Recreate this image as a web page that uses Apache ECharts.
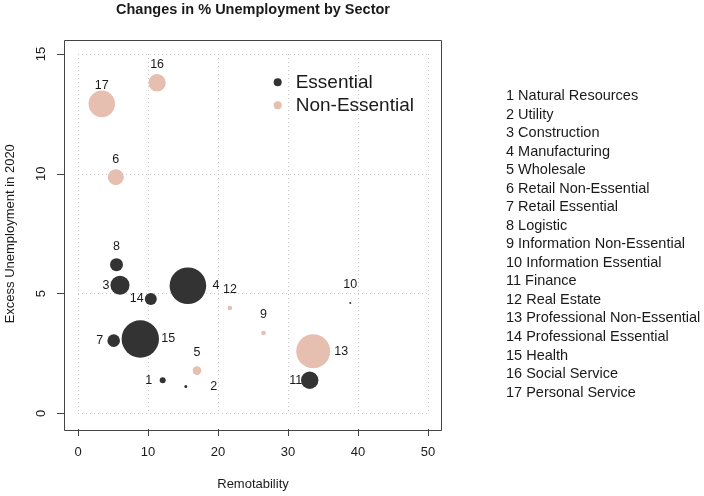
<!DOCTYPE html>
<html>
<head>
<meta charset="utf-8">
<script src="https://cdn.jsdelivr.net/npm/echarts@6/dist/echarts.min.js"></script>
<style>
  html, body { margin: 0; padding: 0; background: #fff; }
  #chart { width: 704px; height: 496px; }
</style>
</head>
<body>
<div id="chart"></div>
<script>
// sectors, numbered 1..17
const sectors = [
  'Natural Resources', 'Utility', 'Construction', 'Manufacturing', 'Wholesale',
  'Retail Non-Essential', 'Retail Essential', 'Logistic', 'Information Non-Essential',
  'Information Essential', 'Finance', 'Real Estate', 'Professional Non-Essential',
  'Professional Essential', 'Health', 'Social Service', 'Personal Service'
];
const group = [
  'Essential', 'Essential', 'Essential', 'Essential', 'Non-Essential',
  'Non-Essential', 'Essential', 'Essential', 'Non-Essential',
  'Essential', 'Essential', 'Non-Essential', 'Non-Essential',
  'Essential', 'Essential', 'Non-Essential', 'Non-Essential'
];
const remotability = [12.1, 15.4, 6.0, 15.7, 17.0, 5.4, 5.1, 5.5, 26.5, 38.9, 33.1, 21.7, 33.6, 10.4, 8.9, 11.3, 3.4];
const excessUnemp = [1.39, 1.13, 5.35, 5.33, 1.79, 9.86, 3.04, 6.21, 3.36, 4.61, 1.39, 4.40, 2.60, 4.78, 3.11, 13.80, 12.92];
// bubble size variable (relative weight of the sector)
const weight = [3, 1.5, 9.5, 18.3, 4.3, 8, 6.3, 6.5, 2.3, 1, 8.7, 2.3, 17, 6, 18.7, 8.7, 13.3];
const groups = ['Essential', 'Non-Essential'];

// label placement around each bubble
const labelSide = ['left', 'right', 'left', 'right', 'top', 'top', 'left', 'top', 'top',
  'top', 'left', 'top', 'right', 'left', 'right', 'top', 'top'];
const sideOffset = { top: [0, -18], left: [-14, 0], right: [28, 0] };
const colors = { 'Essential': '#333333', 'Non-Essential': '#e6bfb1' };
const font = 'Liberation Sans, Arial, sans-serif';

const chart = echarts.init(document.getElementById('chart'));

function seriesData(g) {
  const out = [];
  for (let i = 0; i < sectors.length; i++) {
    if (group[i] !== g) continue;
    out.push({
      value: [remotability[i], excessUnemp[i], weight[i], i + 1],
      label: { position: 'inside', offset: sideOffset[labelSide[i]] }
    });
  }
  return out;
}

const sectorList = sectors.map(function (s, i) {
  return {
    type: 'text',
    x: 506,
    y: 96 + i * 18.54,
    style: {
      text: (i + 1) + ' ' + s,
      fontSize: 14.5,
      fontFamily: font,
      fill: '#1a1a1a',
      verticalAlign: 'middle'
    }
  };
});

// the box is drawn as a graphic; the axis line only anchors the ticks
const axisLine = { show: true, onZero: false, lineStyle: { color: '#444', width: 1, opacity: 0 } };

chart.setOption({
  animation: false,
  grid: { left: 78, right: 276, top: 54, bottom: 81.5 },
  legend: {
    data: groups,
    orient: 'vertical',
    left: 273.7,
    top: 70.8,
    padding: 0,
    itemGap: 0,
    icon: 'circle',
    itemWidth: 8,
    itemHeight: 8,
    selectedMode: false,
    textStyle: { fontSize: 19, fontFamily: font, color: '#1a1a1a', lineHeight: 23, padding: [0, 0, 0, 9] }
  },
  xAxis: {
    type: 'value',
    min: 0, max: 50, interval: 10,
    offset: 15.5,
    name: 'Remotability',
    nameLocation: 'middle',
    nameGap: 49,
    nameTextStyle: { fontSize: 13, fontFamily: font, color: '#1a1a1a' },
    axisLine: axisLine,
    axisTick: { show: true, length: 7, lineStyle: { color: '#444' } },
    axisLabel: { fontSize: 13, fontFamily: font, color: '#1a1a1a', margin: 16.5 },
    splitLine: { show: true, lineStyle: { color: '#c8c8c8', type: [1, 3], width: 1 } }
  },
  yAxis: {
    type: 'value',
    min: 0, max: 15, interval: 5,
    offset: 14,
    name: 'Excess Unemployment in 2020',
    nameLocation: 'middle',
    nameGap: 47,
    nameTextStyle: { fontSize: 13, fontFamily: font, color: '#1a1a1a' },
    axisLine: axisLine,
    axisTick: { show: true, length: 7, lineStyle: { color: '#444' } },
    axisLabel: { fontSize: 13, fontFamily: font, color: '#1a1a1a', rotate: 90, margin: 16 },
    splitLine: { show: true, lineStyle: { color: '#c8c8c8', type: [1, 3], width: 1 } }
  },
  series: ['Non-Essential', 'Essential'].map(function (g) {
    return {
      name: g,
      type: 'scatter',
      data: seriesData(g),
      symbol: 'circle',
      symbolSize: function (v) { return v[2] * 2; },
      itemStyle: { color: colors[g], opacity: 1 },
      label: {
        show: true,
        formatter: function (p) { return p.value[3]; },
        fontSize: 12.5,
        fontFamily: font,
        color: '#1a1a1a'
      },
      emphasis: { disabled: true }
    };
  }),
  graphic: [
    {
      type: 'rect',
      shape: { x: 64.5, y: 40.5, width: 377, height: 390 },
      style: { fill: 'none', stroke: '#444', lineWidth: 1 }
    },
    {
      type: 'text',
      x: 253, y: 10,
      style: {
        text: 'Changes in % Unemployment by Sector',
        fontSize: 14.5, fontWeight: 'bold', fontFamily: font, fill: '#1a1a1a',
        align: 'center', verticalAlign: 'middle'
      }
    }
  ].concat(sectorList)
});
</script>
</body>
</html>
